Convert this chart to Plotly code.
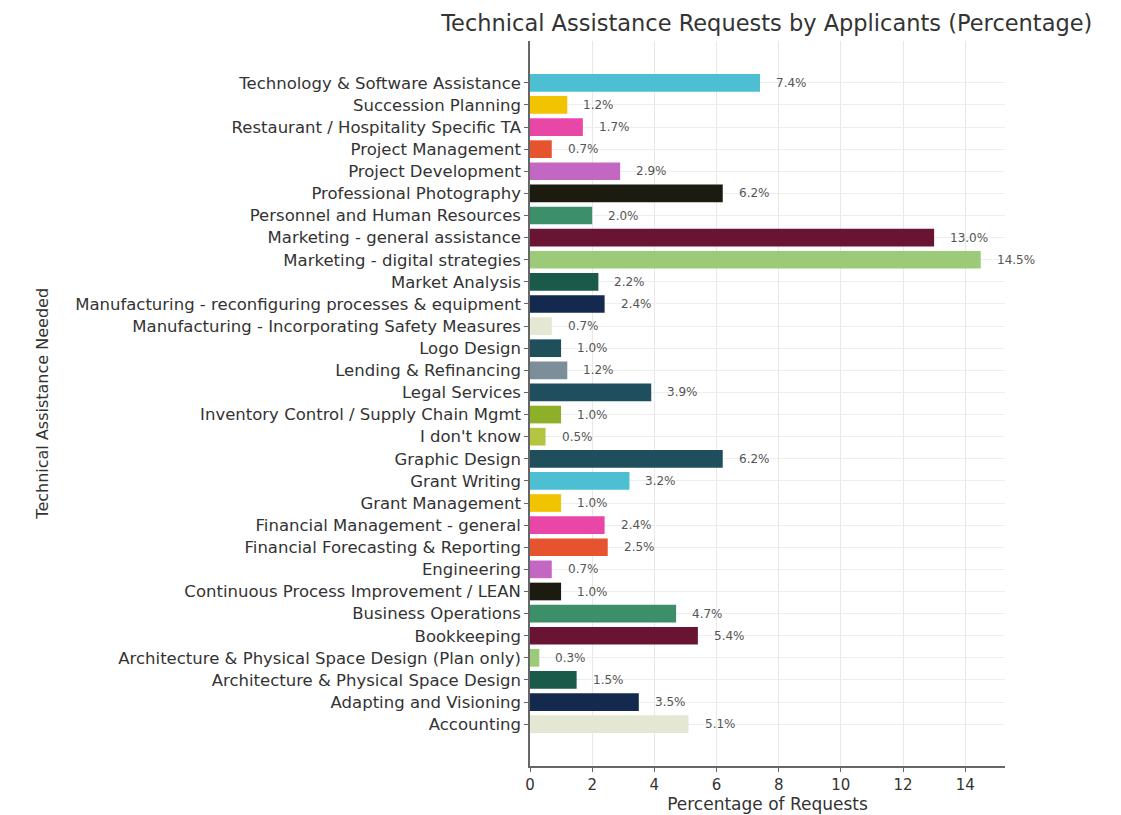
import plotly.graph_objects as go

# Categories listed bottom-to-top (as plotted)
categories = [
    "Accounting",
    "Adapting and Visioning",
    "Architecture & Physical Space Design",
    "Architecture & Physical Space Design (Plan only)",
    "Bookkeeping",
    "Business Operations",
    "Continuous Process Improvement / LEAN",
    "Engineering",
    "Financial Forecasting & Reporting",
    "Financial Management - general",
    "Grant Management",
    "Grant Writing",
    "Graphic Design",
    "I don't know",
    "Inventory Control / Supply Chain Mgmt",
    "Legal Services",
    "Lending & Refinancing",
    "Logo Design",
    "Manufacturing - Incorporating Safety Measures",
    "Manufacturing - reconfiguring processes & equipment",
    "Market Analysis",
    "Marketing - digital strategies",
    "Marketing - general assistance",
    "Personnel and Human Resources",
    "Professional Photography",
    "Project Development",
    "Project Management",
    "Restaurant / Hospitality Specific TA",
    "Succession Planning",
    "Technology & Software Assistance",
]

percentages = [
    5.1, 3.5, 1.5, 0.3, 5.4, 4.7, 1.0, 0.7, 2.5, 2.4,
    1.0, 3.2, 6.2, 0.5, 1.0, 3.9, 1.2, 1.0, 0.7, 2.4,
    2.2, 14.5, 13.0, 2.0, 6.2, 2.9, 0.7, 1.7, 1.2, 7.4,
]

palette = [
    "#e4e7d2", "#132a4e", "#1a5a4b", "#9bcb78", "#6a1433", "#3d8f69",
    "#1b1b10", "#c268c2", "#e5532f", "#e847a8", "#f2c300", "#4cbfd3",
    "#1f4e5c", "#b5c443", "#8daf2a", "#1f4e5e", "#7c8e99", "#1f4f5b",
]
bar_colors = [palette[i % len(palette)] for i in range(len(categories))]

labels = [f"{v:.1f}%" for v in percentages]

fig = go.Figure()
fig.add_trace(go.Bar(
    x=percentages,
    y=categories,
    orientation="h",
    marker=dict(color=bar_colors, line=dict(width=0)),
    showlegend=False,
))

for cat, val, lab in zip(categories, percentages, labels):
    fig.add_annotation(
        x=val, y=cat, text=lab, showarrow=False,
        xanchor="left", yanchor="middle", xshift=14,
        font=dict(family="DejaVu Sans", size=12, color="#555555"),
    )

# y-axis title placed at the far left like the reference
fig.add_annotation(
    xref="paper", yref="paper", x=-1.027, y=0.5,
    text="Technical Assistance Needed", textangle=-90, showarrow=False,
    xanchor="center", yanchor="middle",
    font=dict(family="DejaVu Sans", size=16, color="#333333"),
)

fig.update_layout(
    width=1121, height=815,
    margin=dict(l=530, r=116, t=41, b=49),
    paper_bgcolor="white", plot_bgcolor="white",
    bargap=0.2,
    font=dict(family="DejaVu Sans", color="#333333"),
    title=dict(
        text="Technical Assistance Requests by Applicants (Percentage)",
        x=0.684, xanchor="center", y=0.972, yanchor="middle",
        font=dict(size=22.5, color="#333333", family="DejaVu Sans"),
    ),
)

fig.update_xaxes(
    range=[0, 15.28],
    tickmode="array", tickvals=[0, 2, 4, 6, 8, 10, 12, 14],
    ticks="outside", ticklen=4, tickcolor="#666666",
    showline=True, linecolor="#666666", linewidth=1.5,
    showgrid=True, gridcolor="#e8e8e8", gridwidth=1,
    zeroline=False,
    tickfont=dict(size=15, color="#333333"),
    title=dict(text="Percentage of Requests", font=dict(size=17, color="#333333"), standoff=2),
    layer="above traces",
    automargin=False,
)
fig.update_yaxes(
    categoryorder="array", categoryarray=categories,
    range=[-1.89, 30.89],
    ticks="outside", ticklen=4, tickcolor="#666666",
    showline=True, linecolor="#666666", linewidth=1.5,
    showgrid=True, gridcolor="#eeeeee", gridwidth=1,
    tickfont=dict(size=16.5, color="#333333"),
    automargin=False,
)

fig.write_html("out.html")
